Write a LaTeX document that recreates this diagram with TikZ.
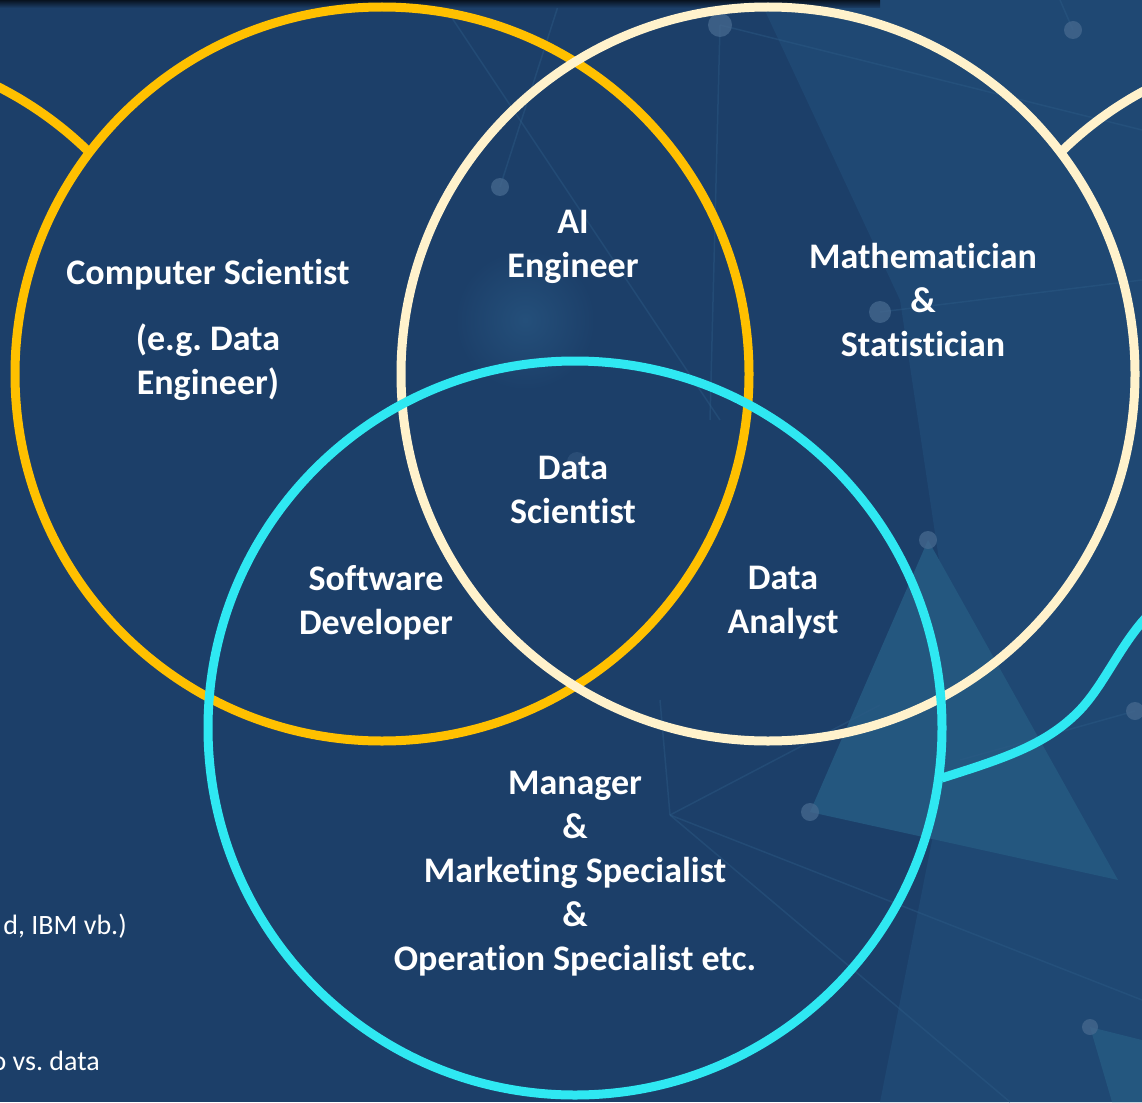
\documentclass[tikz,border=0pt]{standalone}
\usepackage{fontspec}
\setmainfont{Carlito}[Ligatures={NoCommon}]
\frenchspacing
\definecolor{bg}{HTML}{1C3F69}
\definecolor{bgl}{HTML}{1F4873}
\definecolor{tri}{HTML}{24577F}
\definecolor{dotc}{HTML}{46698F}
\definecolor{lin}{HTML}{2C5A85}
\definecolor{ylw}{HTML}{FFC000}
\definecolor{crm}{HTML}{FFF2CC}
\definecolor{cyn}{HTML}{2FE8F2}
\tikzset{
  ring/.style={circle, inner sep=0pt, minimum size=734pt, line width=9pt},
  lbl/.style={text=white, align=center, font=\bfseries\fontsize{36}{44}\selectfont},
  side/.style={text=white, anchor=east, inner sep=0pt, font=\fontsize{28}{34}\selectfont},
  bgdot/.style={fill=dotc, opacity=0.75},
  bgline/.style={draw=lin, line width=1.5pt, opacity=0.45}
}
\begin{document}
\begin{tikzpicture}[x=1pt,y=-1pt]
\useasboundingbox (0,0) rectangle (1142,1102);
\fill[bg] (0,0) rectangle (1142,1102);
% background decoration
\fill[bgl] (760,0) -- (1142,0) -- (1142,1102) -- (880,1102) -- (960,700) -- (900,300) -- cycle;
\fill[tri] (928,540) -- (810,812) -- (1118,880) -- cycle;
\fill[tri] (1090,1027) -- (1142,1040) -- (1142,1102) -- (1112,1102) -- cycle;
\shade[inner color=bgl!60!lin, outer color=bg] (525,320) circle[radius=70pt];
\draw[bgline] (670,815) -- (1010,1102);
\draw[bgline] (670,815) -- (1142,1000);
\draw[bgline] (670,815) -- (880,705);
\draw[bgline] (670,815) -- (660,700);
\draw[bgline] (500,187) -- (560,0);
\draw[bgline] (440,0) -- (720,420);
\draw[bgline] (720,25) -- (710,420);
\draw[bgline] (720,25) -- (1142,130);
\draw[bgline] (880,312) -- (1142,280);
\draw[bgline] (1073,30) -- (1060,0);
\draw[bgline] (1135,711) -- (960,760);
\foreach \p/\r in {{(720,25)}/12,{(1073,30)}/9,{(500,187)}/9,{(880,312)}/11,{(928,540)}/9,{(810,812)}/9,{(1135,711)}/9,{(1090,1027)}/8}
  \fill[bgdot] \p circle[radius=\r pt];
\fill[dotc, opacity=0.35] (577,462) circle[radius=10pt];
\shade[top color=black!70!bg, bottom color=bg] (0,0) rectangle (880,8);
% partial arcs
\draw[ylw, line width=9pt] plot[domain=45.45:75, variable=\t, samples=40] ({-168+367*cos(\t)}, {414-367*sin(\t)});
\draw[crm, line width=9pt] plot[domain=105:134.5, variable=\t, samples=40] ({1318+367*cos(\t)}, {414-367*sin(\t)});
% circles
\node[ring, draw=ylw] (cs) at (382,374) {};
\node[ring, draw=crm] (ms) at (768,374) {};
\coordinate (wend) at (1165,600);
\draw[cyn, line width=9pt] (942,778) .. controls (1005,758) and (1045,745) .. (1078,712) .. controls (1108,682) and (1125,630) .. (wend);
\node[ring, draw=cyn] (dm) at (575,728) {};
% labels
\node[lbl] (tcs) at (208,330) {Computer Scientist\\[22pt](e.g. Data\\Engineer)};
\node[lbl] (tai) at (573,247) {AI\\Engineer};
\node[lbl] (tma) at (923,300) {Mathematician\\\&\\Statistician};
\node[lbl] (tds) at (573,490) {Data\\Scientist};
\node[lbl] (tsd) at (376,603) {Software\\Developer};
\node[lbl] (tda) at (783,603) {Data\\Analyst};
\node[lbl] (tmg) at (575,874) {Manager\\\&\\Marketing Specialist\\\&\\Operation Specialist etc.};
\node[side] (s1) at (127,926) {d, IBM vb.)};
\node[side] (s2) at (100,1061) {o vs. data};
\end{tikzpicture}
\end{document}
